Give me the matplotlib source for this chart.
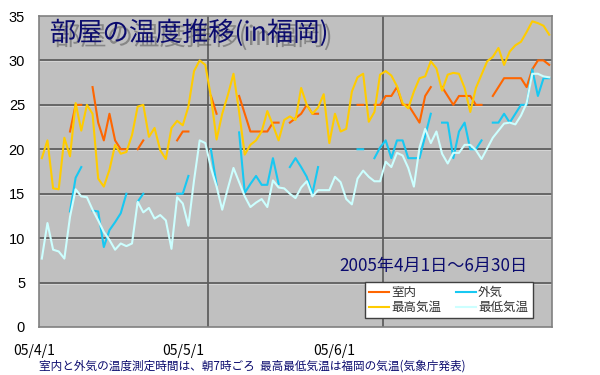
import numpy as np
import matplotlib
matplotlib.use('Agg')
import matplotlib.pyplot as plt
import matplotlib.patheffects as pe

nan = np.nan
days = np.arange(91)  # 2005/4/1 .. 2005/6/30

indoor = [20, nan, nan, nan, nan, 22, 25, 25, nan, 27,
          23, 21, 24, 21, 20, 20, nan, 20, 21, nan,
          nan, nan, nan, nan, 21, 22, 22, nan, nan, nan,
          26, 24, nan, nan, nan, 26, 24, 22, 22, 22,
          22, 23, 23, nan, 23, 23.5, 24, 25, 24, 24,
          nan, nan, nan, nan, nan, nan, 25, 25, nan, 25,
          25, 26, 26, 27, 25, 25, 24, 23, 26, 27,
          nan, 27, 26, 25, 26, 26, 26, 25, 25, nan,
          26, 27, 28, 28, 28, 28, 27, 29, 30, 30,
          29.5]

outdoor = [10, nan, nan, nan, nan, 13, 16.8, 18, nan, 13.1,
           13, 9, 10.9, 11.8, 12.8, 15, nan, 14.1, 15, nan,
           nan, nan, nan, nan, 15, 15, 17, nan, nan, nan,
           20, 16, nan, nan, nan, 21.9, 15.1, 16.1, 17, 16,
           16, 19, 16.1, nan, 18, 19, 18, 16.9, 15, 18,
           nan, nan, nan, nan, nan, nan, 20, 20, nan, 19,
           20.2, 21, 19, 21, 21, 19, 19, 19, 21.5, 24,
           nan, 23, 23, 19, 22, 23, 20, 20, 21, nan,
           23, 23, 24, 23, 24, 25, 25, 29, 26, 28,
           28]

tmax = [19.0, 21.0, 15.6, 15.5, 21.3, 19.2, 25.2, 22.1, 25.0, 24.0,
        16.7, 15.8, 17.7, 20.5, 19.5, 19.7, 21.6, 24.8, 25.0, 21.4,
        22.4, 19.9, 18.9, 22.4, 23.2, 22.7, 24.8, 28.8, 30.0, 29.5,
        25.9, 21.1, 24.0, 26.1, 28.5, 24.2, 19.4, 20.5, 21.0, 22.0,
        24.3, 22.7, 21.0, 23.3, 23.7, 23.3, 26.9, 25.0, 24.0, 24.7,
        26.2, 20.7, 24.0, 22.0, 22.3, 26.5, 28.1, 28.5, 23.1, 24.2,
        28.4, 28.8, 28.3, 27.1, 25.2, 24.6, 26.5, 28.0, 28.2, 29.9,
        29.1, 26.6, 28.4, 28.6, 28.5, 26.9, 24.2, 26.9, 28.4, 29.9,
        30.4, 31.4, 29.5, 31.0, 31.7, 32.1, 33.2, 34.4, 34.2, 33.9,
        32.9]

tmin = [7.7, 11.7, 8.7, 8.5, 7.7, 12.4, 15.5, 14.7, 14.6, 13.2,
        12.0, 10.7, 9.8, 8.7, 9.4, 9.1, 9.4, 14.1, 12.9, 13.4,
        12.2, 12.6, 12.0, 8.8, 14.6, 13.9, 11.4, 16.5, 21.0, 20.7,
        17.9, 15.8, 13.2, 15.6, 17.9, 16.3, 14.7, 13.5, 14.0, 14.4,
        13.5, 16.5, 15.7, 15.6, 15.0, 14.5, 15.7, 16.4, 14.7, 15.4,
        15.4, 15.4, 16.9, 16.3, 14.4, 13.8, 16.7, 17.6, 16.9, 16.4,
        16.4, 18.6, 18.0, 19.6, 19.3, 17.9, 15.8, 20.2, 22.3, 20.7,
        22.0, 19.5, 18.4, 19.6, 19.6, 20.5, 20.5, 19.9, 18.9, 20.1,
        21.3, 22.1, 22.9, 23.0, 22.8, 23.8, 25.2, 28.5, 28.5, 28.2,
        28.1]

series_names = ['室内', '外気', '最高気温', '最低気温']
series_colors = ['#FF6600', '#17C8F2', '#FFCC00', '#CCFFFF']
month_labels = ['05/4/1', '05/5/1', '05/6/1']
month_bounds = [29.5, 60.5]
y_ticks = [0, 5, 10, 15, 20, 25, 30, 35]

JP = ['Noto Sans CJK JP', 'DejaVu Sans']
NAVY = '#0B0B6E'

fig = plt.figure(figsize=(6, 3.75), dpi=100)
ax = fig.add_axes([39/600, 48/375, 513/600, 311/375])
ax.set_facecolor('#C0C0C0')
ax.set_xlim(-0.5, 90.5)
ax.set_ylim(0, 35)
ax.set_yticks(y_ticks)
ax.set_yticklabels([str(v) for v in y_ticks], fontsize=10.5,
                   family=['Liberation Sans', 'DejaVu Sans'])
ax.tick_params(axis='y', length=0, pad=10)
ax.set_xticks([])
for s in ax.spines.values():
    s.set_color('#808080')
    s.set_linewidth(1.2)

for y in y_ticks[1:-1]:
    ax.axhline(y, color='#5F5F5F', lw=1.3, zorder=1)
    ax.axhline(y - 0.12, color='#D8D8D8', lw=0.6, zorder=1)
for x in month_bounds:
    ax.axvline(x, color='#5F5F5F', lw=1.3, zorder=1)

handles = []
for data, name, col in zip([indoor, outdoor, tmax, tmin], series_names, series_colors):
    ln, = ax.plot(days, data, color=col, lw=1.5, label=name, zorder=3)
    handles.append(ln)

# legend: row1 室内 / 外気, row2 最高気温 / 最低気温
order = [0, 2, 1, 3]
leg = ax.legend([handles[i] for i in order], [series_names[i] for i in order],
                ncol=2, loc='lower right', bbox_to_anchor=(0.962, 0.028),
                prop={'family': JP, 'size': 9}, frameon=True, fancybox=False,
                edgecolor='#404040', framealpha=1, handlelength=1.6,
                columnspacing=1.2, borderpad=0.35, labelspacing=0.15,
                handletextpad=0.15, borderaxespad=0)
leg.get_frame().set_linewidth(1.0)
for t in leg.get_texts():
    t.set_color('#333333')

# title with shadow
ax.text(0.021, 0.99, '部屋の温度推移(in福岡)', transform=ax.transAxes,
        ha='left', va='top', fontsize=19, color=NAVY, family=JP,
        zorder=5,
        path_effects=[pe.withSimplePatchShadow(offset=(3, -3),
                                               shadow_rgbFace='#404040',
                                               alpha=0.45)])

ax.text(0.953, 0.195, '2005年4月1日～6月30日', transform=ax.transAxes,
        ha='right', va='center', fontsize=12.3, color=NAVY, family=JP, zorder=5)

# month labels under the axis
for lab, xp in zip(month_labels, [34, 183, 334]):
    fig.text(xp/600, 1 - 351/375, lab, ha='center', va='center',
             fontsize=10, family=JP, color='black')

fig.text(252/600, 1 - 366/375,
         '室内と外気の温度測定時間は、朝7時ごろ  最高最低気温は福岡の気温(気象庁発表)',
         ha='center', va='center', fontsize=8.4, family=JP, color=NAVY)

fig.savefig('out.png', dpi=100, facecolor='white')
